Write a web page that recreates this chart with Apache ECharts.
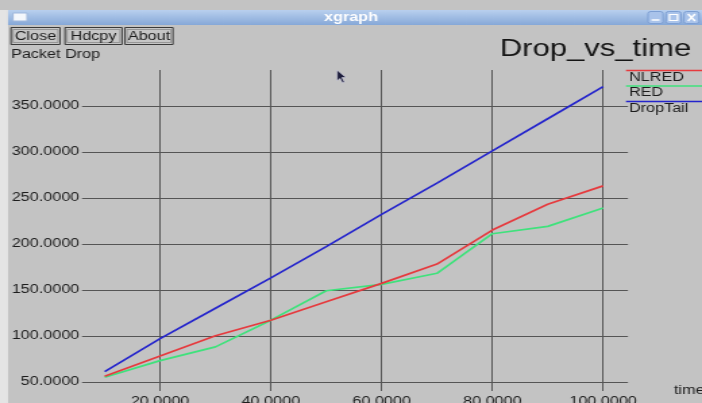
<!DOCTYPE html>
<html>
<head>
<meta charset="utf-8">
<script src="https://cdn.jsdelivr.net/npm/echarts@6/dist/echarts.min.js"></script>
<style>
  html, body { margin: 0; padding: 0; background: #ffffff; overflow: hidden; }
  #wrap { width: 702px; height: 403px; overflow: hidden; position: relative; }
  /* the xgraph window is drawn narrow and widened horizontally */
  #chart { width: 520px; height: 403px; transform: scaleX(1.35); transform-origin: 0 0; }
</style>
</head>
<body>
<div id="wrap"><div id="chart"></div></div>
<script>
// ---- data ----
const times = [10, 20, 30, 40, 50, 60, 70, 80, 90, 100];
const nlred = [56, 78, 100, 117, 137, 157, 178, 215, 243, 263];
const red = [55, 73, 88, 117, 149, 156, 168, 211, 219, 239];
const dropTail = [61, 97, 130, 163, 197, 232, 266, 301, 336, 371];
const seriesNames = ['NLRED', 'RED', 'DropTail'];
const xTicks = [20, 40, 60, 80, 100];
const yTicks = [50, 100, 150, 200, 250, 300, 350];
const buttonLabels = ['Close', 'Hdcpy', 'About'];

// ---- layout helpers (page pixels -> chart pixels) ----
const S = 1.35;
const W = 520;
const px = v => v / S;

const FONT = '"Liberation Sans", Arial, sans-serif';
const colors = ['#e63a3e', '#3fe27c', '#2424cc'];
const values = [nlred, red, dropTail];

const pairs = arr => times.map((t, i) => [t, arr[i]]);

const gridLeft = px(82), gridRight = W - px(628);

// window chrome, buttons, legend
const graphics = [];
// light left frame strip
graphics.push({ type: 'rect', shape: { x: 0, y: 10, width: px(8), height: 393 }, style: { fill: '#e4e4e4' }, silent: true });
// title bar
graphics.push({
  type: 'rect', shape: { x: px(8), y: 10, width: W - px(8), height: 15 },
  style: { fill: new echarts.graphic.LinearGradient(0, 0, 0, 1, [
    { offset: 0, color: '#b9d0ee' }, { offset: 1, color: '#86a8d8' }]) }, silent: true
});
graphics.push({ type: 'rect', shape: { x: px(13), y: 13, width: px(14), height: 8 }, style: { fill: '#f4f7fc', stroke: '#9fb7dc', lineWidth: 1 }, silent: true });
graphics.push({ type: 'text', x: px(351), y: 17.5, style: { text: 'xgraph', fill: '#ffffff', font: 'bold 12px ' + FONT, align: 'center', verticalAlign: 'middle' }, silent: true });
[648, 666, 684].forEach((bx, i) => {
  graphics.push({ type: 'rect', shape: { x: px(bx), y: 11.5, width: px(15), height: 12, r: 2 }, style: { fill: '#a9c3ea', stroke: '#7d9fd3', lineWidth: 1 }, silent: true });
  const cx = px(bx + 7.5);
  if (i === 0) graphics.push({ type: 'line', shape: { x1: cx - px(4), y1: 20, x2: cx + px(4), y2: 20 }, style: { stroke: '#ffffff', lineWidth: 1.5 } });
  if (i === 1) graphics.push({ type: 'rect', shape: { x: cx - px(4), y: 14.5, width: px(8), height: 6 }, style: { fill: 'none', stroke: '#ffffff', lineWidth: 1.2 } });
  if (i === 2) {
    graphics.push({ type: 'line', shape: { x1: cx - px(3.5), y1: 14, x2: cx + px(3.5), y2: 21 }, style: { stroke: '#ffffff', lineWidth: 1.5 } });
    graphics.push({ type: 'line', shape: { x1: cx + px(3.5), y1: 14, x2: cx - px(3.5), y2: 21 }, style: { stroke: '#ffffff', lineWidth: 1.5 } });
  }
});
// buttons
const btnBoxes = [[11, 60], [65, 122], [125, 173]];
buttonLabels.forEach((lab, i) => {
  const [a, b] = btnBoxes[i];
  graphics.push({ type: 'rect', shape: { x: px(a), y: 27.5, width: px(b - a), height: 17 }, style: { fill: '#c6c6c6', stroke: '#3a3a3a', lineWidth: 1 }, silent: true });
  graphics.push({ type: 'rect', shape: { x: px(a + 2), y: 29.5, width: px(b - a - 4), height: 13 }, style: { fill: 'none', stroke: '#8a8a8a', lineWidth: 0.8 }, silent: true });
  graphics.push({ type: 'text', x: px((a + b) / 2), y: 36.5, style: { text: lab, fill: '#1c1c1c', font: '12px ' + FONT, align: 'center', verticalAlign: 'middle' }, silent: true });
});
// y label
graphics.push({ type: 'text', x: px(11), y: 55, style: { text: 'Packet Drop', fill: '#1c1c1c', font: '12px ' + FONT, align: 'left', verticalAlign: 'middle' }, silent: true });
// legend
seriesNames.forEach((name, i) => {
  const ly = 70.5 + i * 15.5;
  graphics.push({ type: 'line', shape: { x1: px(626), y1: ly, x2: W, y2: ly }, style: { stroke: colors[i], lineWidth: 1.6 }, silent: true });
  graphics.push({ type: 'text', x: px(629), y: ly + 7, style: { text: name, fill: '#1c1c1c', font: '12px ' + FONT, align: 'left', verticalAlign: 'middle' }, silent: true });
});
// mouse pointer
graphics.push({
  type: 'polygon', silent: true,
  shape: { points: [[px(337), 70], [px(337), 81], [px(340), 78.5], [px(342.5), 83], [px(344.5), 82], [px(342), 77.5], [px(346), 77.5]] },
  style: { fill: '#1e1e3c', stroke: '#d8d8e8', lineWidth: 0.6 }
});

const axisText = { color: '#1c1c1c', fontFamily: FONT, fontSize: 12 };
const gridLine = { show: true, lineStyle: { color: '#555555', width: 1, type: 'solid' } };

const chart = echarts.init(document.getElementById('chart'), null, { renderer: 'canvas', width: W, height: 403 });
chart.setOption({
  animation: false,
  backgroundColor: '#c3c3c3',
  title: {
    text: 'Drop_vs_time', left: px(493), top: 33,
    textStyle: { fontFamily: FONT, fontSize: 23, fontWeight: 'normal', color: '#151515' }
  },
  grid: { left: gridLeft, right: gridRight, top: 70, bottom: 12, containLabel: false, outerBoundsMode: 'none' },
  xAxis: {
    type: 'value', min: 5.9, max: 104.5,
    name: 'time', nameLocation: 'end', nameGap: 34,
    nameTextStyle: { ...axisText, align: 'left', verticalAlign: 'middle', padding: [3, 0, 0, 0] },
    axisLine: { show: false },
    axisTick: { show: false, customValues: xTicks },
    axisLabel: { customValues: xTicks, margin: 5, formatter: v => v.toFixed(4), ...axisText },
    splitLine: gridLine
  },
  yAxis: {
    type: 'value', min: 40, max: 389,
    axisLine: { show: false },
    axisTick: { show: false, customValues: yTicks },
    axisLabel: { customValues: yTicks, margin: 2, formatter: v => v.toFixed(4), ...axisText },
    splitLine: gridLine
  },
  series: seriesNames.map((name, i) => ({
    name, type: 'line', data: pairs(values[i]),
    showSymbol: false, symbol: 'none',
    lineStyle: { color: colors[i], width: 1.7 },
    itemStyle: { color: colors[i] },
    z: 3 + (2 - i)
  })),
  graphic: graphics
});
</script>
</body>
</html>
